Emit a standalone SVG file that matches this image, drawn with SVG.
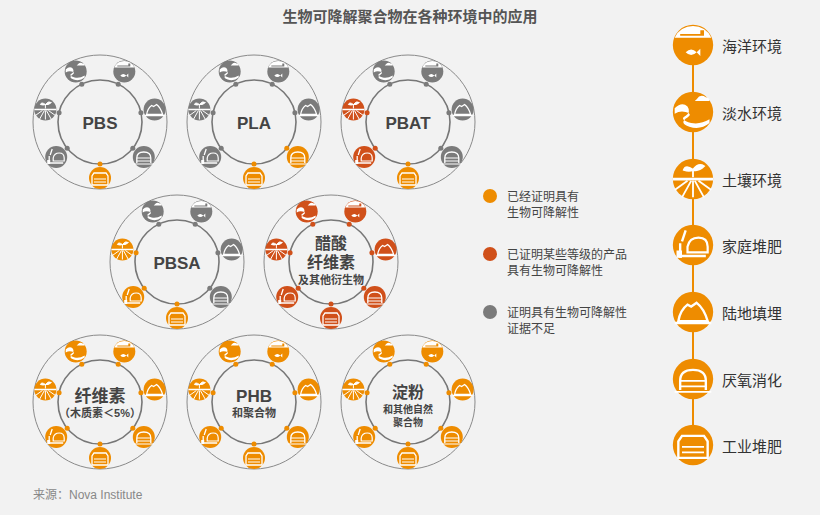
<svg xmlns="http://www.w3.org/2000/svg" xmlns:xlink="http://www.w3.org/1999/xlink" width="820" height="515" viewBox="0 0 820 515">
<style>
text{font-family:"Liberation Sans","Noto Sans CJK SC",sans-serif;}
.ttl{font-size:15px;font-weight:bold;fill:#555;text-anchor:middle}
.mat{font-weight:bold;fill:#444;text-anchor:middle}
.outer{fill:none;stroke:#8a8a8a;stroke-width:1}
.inner{fill:none;stroke:#777;stroke-width:1.6}
.lg{font-size:12px;fill:#444}
.rl{font-size:15px;fill:#333}
.O{color:#EE8C00;fill:#EE8C00}
.R{color:#D0501A;fill:#D0501A}
.G{color:#7b7b7b;fill:#7b7b7b}
</style>
<defs>
<symbol id="marine" viewBox="-12 -12 24 24"><circle r="11" fill="currentColor"/><path d="M-10,-4 A11,11 0 0 1 10,-4 Z" fill="#fff"/><path d="M-7,-5 h13 v-3 h-2 v2 h-11z" fill="currentColor"/><path d="M-4,4 q3,-3 6,0 q-3,3 -6,0z M2,4 l2,-2 v4z" fill="#fff"/></symbol>
<symbol id="fresh" viewBox="-12 -12 24 24"><circle r="11" fill="currentColor"/><path d="M-10,-2 q4,-4 7,-1 q2,3 -1,5 q-4,2 3,4 q5,1 10,-2 v2 q-5,4 -11,2 q-6,-2 -1,-5 q3,-2 -1,-3 q-3,-1 -6,1z" fill="#fff"/><path d="M2,-7 q2,-3 5,-1 q2,0 2,2 h-8z" fill="#fff"/></symbol>
<symbol id="soil" viewBox="-12 -12 24 24"><circle r="11" fill="currentColor"/><path d="M-11,0 h22" stroke="#fff" stroke-width="1.5"/><path d="M-6,10 L-1,1 M6,10 L1,1 M0,10 V1 M-10,6 L-3,1 M10,6 L3,1" stroke="#fff" stroke-width="1"/><path d="M0,-1 v-4 M0,-5 q-4,-3 -5,0 q3,1 5,0 M0,-5 q3,-4 6,-2 q-3,3 -6,2" stroke="#fff" stroke-width="1" fill="#fff"/></symbol>
<symbol id="home" viewBox="-12 -12 24 24"><circle r="11" fill="currentColor"/><path d="M-7,6 h14 M-7,-1 v8 M-6,-2 l2,-6" stroke="#fff" stroke-width="1.3" fill="none"/><path d="M-3,1 q1,-5 6,-5 q5,0 5,5 v3 h-11z" fill="none" stroke="#fff" stroke-width="1.2"/><path d="M-9,3 h3 v4 h-3z" fill="#fff"/></symbol>
<symbol id="landfill" viewBox="-12 -12 24 24"><circle r="11" fill="currentColor"/><path d="M-8,5 q1,-6 5,-9 l2,1 l3,-2 q4,3 6,10z" fill="none" stroke="#fff" stroke-width="1.3"/><path d="M-10,6 h20" stroke="#fff" stroke-width="1.3"/></symbol>
<symbol id="anaer" viewBox="-12 -12 24 24"><circle r="11" fill="currentColor"/><path d="M-7,6 v-5 q0,-6 7,-6 q7,0 7,6 v5" fill="none" stroke="#fff" stroke-width="1.3"/><path d="M-7,1 h14 M-7,4 h14 M-10,7 h20" stroke="#fff" stroke-width="1"/></symbol>
<symbol id="indus" viewBox="-12 -12 24 24"><circle r="11" fill="currentColor"/><path d="M-8,7 v-9 l2,-3 h12 l2,3 v9z" fill="none" stroke="#fff" stroke-width="1.3"/><path d="M-6,1 h12 M-6,4 h12" stroke="#fff" stroke-width="1"/></symbol>
<g id="rings"><circle r="67" class="outer"/><circle r="42" class="inner"/></g>
</defs>
<rect width="820" height="515" fill="#f2f2f2"/>
<text x="410" y="22" class="ttl">生物可降解聚合物在各种环境中的应用</text>

<g id="mat-pbs" transform="translate(100,122)">
<use href="#rings"/>
<circle cx="18.2" cy="-37.8" r="2.5" class="G"/><circle cx="40.9" cy="-9.3" r="2.5" class="G"/><circle cx="32.8" cy="26.2" r="2.5" class="G"/><circle cx="0" cy="42" r="2.5" class="O"/><circle cx="-32.8" cy="26.2" r="2.5" class="G"/><circle cx="-40.9" cy="-9.3" r="2.5" class="G"/><circle cx="-18.2" cy="-37.8" r="2.5" class="G"/>
<use href="#marine" x="12.3" y="-62.5" width="24" height="24" class="G"/><use href="#landfill" x="42.6" y="-24.5" width="24" height="24" class="G"/><use href="#anaer" x="31.8" y="23" width="24" height="24" class="G"/><use href="#indus" x="-12" y="44" width="24" height="24" class="O"/><use href="#home" x="-55.8" y="23" width="24" height="24" class="G"/><use href="#soil" x="-66.6" y="-24.5" width="24" height="24" class="G"/><use href="#fresh" x="-36.3" y="-62.5" width="24" height="24" class="G"/>
<text y="7" class="mat" font-size="17">PBS</text>
</g>

<g id="mat-pla" transform="translate(254,122)">
<use href="#rings"/>
<circle cx="18.2" cy="-37.8" r="2.5" class="G"/><circle cx="40.9" cy="-9.3" r="2.5" class="G"/><circle cx="32.8" cy="26.2" r="2.5" class="O"/><circle cx="0" cy="42" r="2.5" class="O"/><circle cx="-32.8" cy="26.2" r="2.5" class="G"/><circle cx="-40.9" cy="-9.3" r="2.5" class="G"/><circle cx="-18.2" cy="-37.8" r="2.5" class="G"/>
<use href="#marine" x="12.3" y="-62.5" width="24" height="24" class="G"/><use href="#landfill" x="42.6" y="-24.5" width="24" height="24" class="G"/><use href="#anaer" x="31.8" y="23" width="24" height="24" class="O"/><use href="#indus" x="-12" y="44" width="24" height="24" class="O"/><use href="#home" x="-55.8" y="23" width="24" height="24" class="G"/><use href="#soil" x="-66.6" y="-24.5" width="24" height="24" class="G"/><use href="#fresh" x="-36.3" y="-62.5" width="24" height="24" class="G"/>
<text y="7" class="mat" font-size="17">PLA</text>
</g>

<g id="mat-pbat" transform="translate(408,122)">
<use href="#rings"/>
<circle cx="18.2" cy="-37.8" r="2.5" class="G"/><circle cx="40.9" cy="-9.3" r="2.5" class="G"/><circle cx="32.8" cy="26.2" r="2.5" class="G"/><circle cx="0" cy="42" r="2.5" class="O"/><circle cx="-32.8" cy="26.2" r="2.5" class="R"/><circle cx="-40.9" cy="-9.3" r="2.5" class="R"/><circle cx="-18.2" cy="-37.8" r="2.5" class="G"/>
<use href="#marine" x="12.3" y="-62.5" width="24" height="24" class="G"/><use href="#landfill" x="42.6" y="-24.5" width="24" height="24" class="G"/><use href="#anaer" x="31.8" y="23" width="24" height="24" class="G"/><use href="#indus" x="-12" y="44" width="24" height="24" class="O"/><use href="#home" x="-55.8" y="23" width="24" height="24" class="R"/><use href="#soil" x="-66.6" y="-24.5" width="24" height="24" class="R"/><use href="#fresh" x="-36.3" y="-62.5" width="24" height="24" class="G"/>
<text y="7" class="mat" font-size="17">PBAT</text>
</g>

<g id="mat-pbsa" transform="translate(177,262)">
<use href="#rings"/>
<circle cx="18.2" cy="-37.8" r="2.5" class="G"/><circle cx="40.9" cy="-9.3" r="2.5" class="G"/><circle cx="32.8" cy="26.2" r="2.5" class="G"/><circle cx="0" cy="42" r="2.5" class="O"/><circle cx="-32.8" cy="26.2" r="2.5" class="O"/><circle cx="-40.9" cy="-9.3" r="2.5" class="O"/><circle cx="-18.2" cy="-37.8" r="2.5" class="G"/>
<use href="#marine" x="12.3" y="-62.5" width="24" height="24" class="G"/><use href="#landfill" x="42.6" y="-24.5" width="24" height="24" class="G"/><use href="#anaer" x="31.8" y="23" width="24" height="24" class="G"/><use href="#indus" x="-12" y="44" width="24" height="24" class="O"/><use href="#home" x="-55.8" y="23" width="24" height="24" class="O"/><use href="#soil" x="-66.6" y="-24.5" width="24" height="24" class="O"/><use href="#fresh" x="-36.3" y="-62.5" width="24" height="24" class="G"/>
<text y="7" class="mat" font-size="17">PBSA</text>
</g>

<g id="mat-acetate" transform="translate(331,262)">
<use href="#rings"/>
<circle cx="18.2" cy="-37.8" r="2.5" class="R"/><circle cx="40.9" cy="-9.3" r="2.5" class="R"/><circle cx="32.8" cy="26.2" r="2.5" class="R"/><circle cx="0" cy="42" r="2.5" class="R"/><circle cx="-32.8" cy="26.2" r="2.5" class="R"/><circle cx="-40.9" cy="-9.3" r="2.5" class="R"/><circle cx="-18.2" cy="-37.8" r="2.5" class="R"/>
<use href="#marine" x="12.3" y="-62.5" width="24" height="24" class="R"/><use href="#landfill" x="42.6" y="-24.5" width="24" height="24" class="R"/><use href="#anaer" x="31.8" y="23" width="24" height="24" class="R"/><use href="#indus" x="-12" y="44" width="24" height="24" class="R"/><use href="#home" x="-55.8" y="23" width="24" height="24" class="R"/><use href="#soil" x="-66.6" y="-24.5" width="24" height="24" class="R"/><use href="#fresh" x="-36.3" y="-62.5" width="24" height="24" class="R"/>
<text y="-13" class="mat" font-size="16">醋酸</text><text y="6" class="mat" font-size="16">纤维素</text><text y="22" class="mat" font-size="11">及其他衍生物</text>
</g>

<g id="mat-cellulose" transform="translate(100,402)">
<use href="#rings"/>
<circle cx="18.2" cy="-37.8" r="2.5" class="O"/><circle cx="40.9" cy="-9.3" r="2.5" class="O"/><circle cx="32.8" cy="26.2" r="2.5" class="O"/><circle cx="0" cy="42" r="2.5" class="O"/><circle cx="-32.8" cy="26.2" r="2.5" class="O"/><circle cx="-40.9" cy="-9.3" r="2.5" class="O"/><circle cx="-18.2" cy="-37.8" r="2.5" class="O"/>
<use href="#marine" x="12.3" y="-62.5" width="24" height="24" class="O"/><use href="#landfill" x="42.6" y="-24.5" width="24" height="24" class="O"/><use href="#anaer" x="31.8" y="23" width="24" height="24" class="O"/><use href="#indus" x="-12" y="44" width="24" height="24" class="O"/><use href="#home" x="-55.8" y="23" width="24" height="24" class="O"/><use href="#soil" x="-66.6" y="-24.5" width="24" height="24" class="O"/><use href="#fresh" x="-36.3" y="-62.5" width="24" height="24" class="O"/>
<text y="0" class="mat" font-size="17">纤维素</text><text y="15" class="mat" font-size="11">（木质素＜5%）</text>
</g>

<g id="mat-phb" transform="translate(254,402)">
<use href="#rings"/>
<circle cx="18.2" cy="-37.8" r="2.5" class="O"/><circle cx="40.9" cy="-9.3" r="2.5" class="O"/><circle cx="32.8" cy="26.2" r="2.5" class="O"/><circle cx="0" cy="42" r="2.5" class="O"/><circle cx="-32.8" cy="26.2" r="2.5" class="O"/><circle cx="-40.9" cy="-9.3" r="2.5" class="O"/><circle cx="-18.2" cy="-37.8" r="2.5" class="O"/>
<use href="#marine" x="12.3" y="-62.5" width="24" height="24" class="O"/><use href="#landfill" x="42.6" y="-24.5" width="24" height="24" class="O"/><use href="#anaer" x="31.8" y="23" width="24" height="24" class="O"/><use href="#indus" x="-12" y="44" width="24" height="24" class="O"/><use href="#home" x="-55.8" y="23" width="24" height="24" class="O"/><use href="#soil" x="-66.6" y="-24.5" width="24" height="24" class="O"/><use href="#fresh" x="-36.3" y="-62.5" width="24" height="24" class="O"/>
<text y="0" class="mat" font-size="17">PHB</text><text y="15" class="mat" font-size="11">和聚合物</text>
</g>

<g id="mat-starch" transform="translate(408,402)">
<use href="#rings"/>
<circle cx="18.2" cy="-37.8" r="2.5" class="O"/><circle cx="40.9" cy="-9.3" r="2.5" class="O"/><circle cx="32.8" cy="26.2" r="2.5" class="O"/><circle cx="0" cy="42" r="2.5" class="O"/><circle cx="-32.8" cy="26.2" r="2.5" class="O"/><circle cx="-40.9" cy="-9.3" r="2.5" class="O"/><circle cx="-18.2" cy="-37.8" r="2.5" class="O"/>
<use href="#marine" x="12.3" y="-62.5" width="24" height="24" class="O"/><use href="#landfill" x="42.6" y="-24.5" width="24" height="24" class="O"/><use href="#anaer" x="31.8" y="23" width="24" height="24" class="O"/><use href="#indus" x="-12" y="44" width="24" height="24" class="O"/><use href="#home" x="-55.8" y="23" width="24" height="24" class="O"/><use href="#soil" x="-66.6" y="-24.5" width="24" height="24" class="O"/><use href="#fresh" x="-36.3" y="-62.5" width="24" height="24" class="O"/>
<text y="-4" class="mat" font-size="16">淀粉</text><text y="11" class="mat" font-size="10">和其他自然</text><text y="24" class="mat" font-size="10">聚合物</text>
</g>

<g id="legend">
<circle cx="490" cy="196" r="7" class="O"/><text x="507" y="201" class="lg">已经证明具有</text><text x="507" y="217" class="lg">生物可降解性</text>
<circle cx="490" cy="254" r="7" class="R"/><text x="507" y="259" class="lg">已证明某些等级的产品</text><text x="507" y="275" class="lg">具有生物可降解性</text>
<circle cx="490" cy="312" r="7" class="G"/><text x="507" y="317" class="lg">证明具有生物可降解性</text><text x="507" y="333" class="lg">证据不足</text>
</g>

<g id="connectors"><line x1="693" y1="45" x2="693" y2="445" stroke="#EE8C00" stroke-width="2"/></g>

<g id="env-marine"><use href="#marine" x="671" y="23" width="44" height="44" class="O"/><text x="722" y="52" class="rl">海洋环境</text></g>
<g id="env-fresh"><use href="#fresh" x="671" y="90" width="44" height="44" class="O"/><text x="722" y="119" class="rl">淡水环境</text></g>
<g id="env-soil"><use href="#soil" x="671" y="157" width="44" height="44" class="O"/><text x="722" y="186" class="rl">土壤环境</text></g>
<g id="env-home"><use href="#home" x="671" y="223" width="44" height="44" class="O"/><text x="722" y="252" class="rl">家庭堆肥</text></g>
<g id="env-landfill"><use href="#landfill" x="671" y="290" width="44" height="44" class="O"/><text x="722" y="319" class="rl">陆地填埋</text></g>
<g id="env-anaer"><use href="#anaer" x="671" y="357" width="44" height="44" class="O"/><text x="722" y="386" class="rl">厌氧消化</text></g>
<g id="env-indus"><use href="#indus" x="671" y="423" width="44" height="44" class="O"/><text x="722" y="452" class="rl">工业堆肥</text></g>

<text x="33" y="499" font-size="12" fill="#888">来源：Nova Institute</text>
</svg>
